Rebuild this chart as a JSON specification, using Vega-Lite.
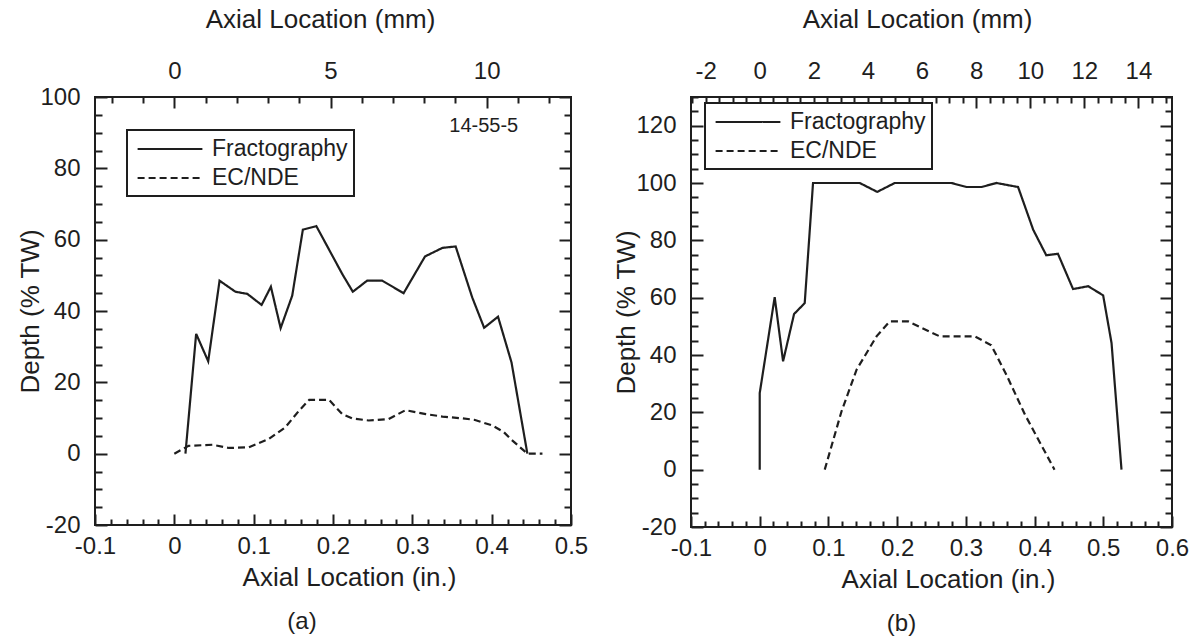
{
  "$schema": "https://vega.github.io/schema/vega-lite/v6.json",
  "background": "white",
  "padding": {"left": 16, "top": 5, "right": 0, "bottom": 0},
  "spacing": 23,
  "config": {
    "font": "Liberation Sans",
    "view": {"stroke": "#1e1e1e", "strokeWidth": 2},
    "axis": {
      "grid": false, "domain": false, "labelFlush": false, "labelOverlap": false, "labelBound": false,
      "labelFontSize": 24, "titleFontSize": 26, "titleFontWeight": "normal",
      "labelColor": "#1e1e1e", "titleColor": "#1e1e1e", "tickColor": "#1e1e1e", "tickWidth": 2
    },
    "legend": {"strokeColor": "#1e1e1e", "strokeWidth": 2, "fillColor": "white", "labelFontSize": 23, "labelColor": "#1e1e1e", "padding": 6, "rowPadding": 4, "symbolStrokeWidth": 2, "symbolStrokeColor": "#1e1e1e", "symbolType": "M-2.7,0H2.7", "symbolSize": 576, "symbolOffset": 24, "labelOffset": 29},
    "title": {"fontSize": 24, "fontWeight": "normal", "color": "#1e1e1e"}
  },
  "resolve": {"legend": {"strokeDash": "independent"}},
  "hconcat": [
    {
      "width": 476, "height": 428,
      "title": {"text": "(a)", "orient": "bottom", "offset": 20, "dx": -31},
      "data": {"values": [
        {"s": "Fractography", "x": 0.014, "y": 0},
        {"s": "Fractography", "x": 0.0275, "y": 33.6},
        {"s": "Fractography", "x": 0.0427, "y": 25.9},
        {"s": "Fractography", "x": 0.057, "y": 48.5},
        {"s": "Fractography", "x": 0.077, "y": 45.4},
        {"s": "Fractography", "x": 0.092, "y": 44.8},
        {"s": "Fractography", "x": 0.110, "y": 41.7},
        {"s": "Fractography", "x": 0.1217, "y": 46.8},
        {"s": "Fractography", "x": 0.134, "y": 35.2},
        {"s": "Fractography", "x": 0.1486, "y": 44.3},
        {"s": "Fractography", "x": 0.162, "y": 62.8},
        {"s": "Fractography", "x": 0.179, "y": 63.8},
        {"s": "Fractography", "x": 0.2116, "y": 50.4},
        {"s": "Fractography", "x": 0.225, "y": 45.4},
        {"s": "Fractography", "x": 0.243, "y": 48.5},
        {"s": "Fractography", "x": 0.262, "y": 48.5},
        {"s": "Fractography", "x": 0.289, "y": 45.0},
        {"s": "Fractography", "x": 0.316, "y": 55.3},
        {"s": "Fractography", "x": 0.338, "y": 57.7},
        {"s": "Fractography", "x": 0.3546, "y": 58.1},
        {"s": "Fractography", "x": 0.3755, "y": 43.8},
        {"s": "Fractography", "x": 0.3905, "y": 35.3},
        {"s": "Fractography", "x": 0.408, "y": 38.4},
        {"s": "Fractography", "x": 0.425, "y": 25.6},
        {"s": "Fractography", "x": 0.445, "y": 0},
        {"s": "EC/NDE", "x": 0, "y": 0},
        {"s": "EC/NDE", "x": 0.018, "y": 2.2},
        {"s": "EC/NDE", "x": 0.048, "y": 2.5},
        {"s": "EC/NDE", "x": 0.069, "y": 1.6},
        {"s": "EC/NDE", "x": 0.094, "y": 1.8},
        {"s": "EC/NDE", "x": 0.119, "y": 4.1},
        {"s": "EC/NDE", "x": 0.140, "y": 7.4},
        {"s": "EC/NDE", "x": 0.157, "y": 12},
        {"s": "EC/NDE", "x": 0.170, "y": 15.1},
        {"s": "EC/NDE", "x": 0.195, "y": 15.1},
        {"s": "EC/NDE", "x": 0.2116, "y": 11.1},
        {"s": "EC/NDE", "x": 0.224, "y": 9.9},
        {"s": "EC/NDE", "x": 0.245, "y": 9.3},
        {"s": "EC/NDE", "x": 0.27, "y": 9.7},
        {"s": "EC/NDE", "x": 0.2915, "y": 12.2},
        {"s": "EC/NDE", "x": 0.317, "y": 11.1},
        {"s": "EC/NDE", "x": 0.338, "y": 10.4},
        {"s": "EC/NDE", "x": 0.363, "y": 9.9},
        {"s": "EC/NDE", "x": 0.378, "y": 9.5},
        {"s": "EC/NDE", "x": 0.401, "y": 7.9},
        {"s": "EC/NDE", "x": 0.4155, "y": 6},
        {"s": "EC/NDE", "x": 0.424, "y": 4.1},
        {"s": "EC/NDE", "x": 0.445, "y": 0},
        {"s": "EC/NDE", "x": 0.464, "y": 0}
      ]},
      "resolve": {"axis": {"x": "independent", "y": "independent"}},
      "layer": [
        {
          "mark": {"type": "line", "color": "#1e1e1e", "strokeWidth": 2.2},
          "encoding": {
            "x": {"field": "x", "type": "quantitative", "scale": {"domain": [-0.1, 0.5], "nice": false, "zero": false},
              "axis": {"orient": "bottom", "title": "Axial Location (in.)", "labelPadding": 20, "titlePadding": 1, "titleX": 254,
                "values": [-0.1,-0.08,-0.06,-0.04,-0.02,0,0.02,0.04,0.06,0.08,0.1,0.12,0.14,0.16,0.18,0.2,0.22,0.24,0.26,0.28,0.3,0.32,0.34,0.36,0.38,0.4,0.42,0.44,0.46,0.48,0.5],
                "labelExpr": "abs(datum.value*10-round(datum.value*10))<0.001 ? (datum.value<-0.001?'-':'')+format(abs(datum.value),'~g') : ''",
                "tickSize": {"condition": {"test": "abs(datum.value*10-round(datum.value*10))<0.001", "value": -11}, "value": -6}}},
            "y": {"field": "y", "type": "quantitative", "scale": {"domain": [-20, 100], "nice": false, "zero": false},
              "axis": {"orient": "left", "title": "Depth (% TW)", "labelPadding": 27, "titlePadding": -4,
                "values": [-20,-15,-10,-5,0,5,10,15,20,25,30,35,40,45,50,55,60,65,70,75,80,85,90,95,100],
                "labelExpr": "datum.value%20==0 ? (datum.value<0?'-':'')+format(abs(datum.value),'d') : ''",
                "tickSize": {"condition": {"test": "datum.value%20==0", "value": -12}, "value": -7}}},
            "strokeDash": {"field": "s", "type": "nominal",
              "scale": {"domain": ["Fractography", "EC/NDE"], "range": [[1, 0], [7, 4]]},
              "legend": {"title": null, "orient": "none", "legendX": 32, "legendY": 33}},
            "order": {"value": null}
          }
        },
        {
          "mark": {"type": "point", "opacity": 0, "size": 0},
          "encoding": {
            "x": {"field": "x", "type": "quantitative", "scale": {"domain": [-0.1, 0.5], "nice": false, "zero": false},
              "axis": {"orient": "top", "title": "Axial Location (mm)", "labelPadding": 25, "titlePadding": 22, "titleX": 225,
                "values": [-0.07874,-0.03937,0,0.03937,0.07874,0.11811,0.15748,0.19685,0.23622,0.27559,0.31496,0.35433,0.3937,0.43307,0.47244],
                "labelExpr": "abs(datum.value*5.08-round(datum.value*5.08))<0.01 ? format(round(datum.value*25.4),'d') : ''",
                "tickSize": {"condition": {"test": "abs(datum.value*5.08-round(datum.value*5.08))<0.01", "value": -11}, "value": -6}}},
            "y": {"field": "y", "type": "quantitative", "scale": {"domain": [-20, 100], "nice": false, "zero": false},
              "axis": {"orient": "right", "title": null, "labels": false,
                "values": [-20,-15,-10,-5,0,5,10,15,20,25,30,35,40,45,50,55,60,65,70,75,80,85,90,95,100],
                "tickSize": {"condition": {"test": "datum.value%20==0", "value": -12}, "value": -7}}}
          }
        },
        {
          "data": {"values": [{"label": "14-55-5"}]},
          "mark": {"type": "text", "fontSize": 20, "color": "#1e1e1e", "align": "center", "baseline": "middle"},
          "encoding": {
            "text": {"field": "label", "type": "nominal"},
            "x": {"datum": 0.39, "type": "quantitative", "axis": null},
            "y": {"datum": 92, "type": "quantitative", "axis": null}
          }
        }
      ]
    },
    {
      "width": 481, "height": 430,
      "title": {"text": "(b)", "orient": "bottom", "offset": 20, "dx": -30},
      "data": {"values": [
        {"s": "Fractography", "x": 0, "y": 0},
        {"s": "Fractography", "x": 0, "y": 26.7},
        {"s": "Fractography", "x": 0.0218, "y": 60.2},
        {"s": "Fractography", "x": 0.034, "y": 37.8},
        {"s": "Fractography", "x": 0.050, "y": 54.3},
        {"s": "Fractography", "x": 0.0655, "y": 58.1},
        {"s": "Fractography", "x": 0.0776, "y": 100},
        {"s": "Fractography", "x": 0.1456, "y": 100},
        {"s": "Fractography", "x": 0.171, "y": 96.9},
        {"s": "Fractography", "x": 0.1965, "y": 100},
        {"s": "Fractography", "x": 0.279, "y": 100},
        {"s": "Fractography", "x": 0.301, "y": 98.6},
        {"s": "Fractography", "x": 0.3227, "y": 98.6},
        {"s": "Fractography", "x": 0.3445, "y": 100},
        {"s": "Fractography", "x": 0.376, "y": 98.6},
        {"s": "Fractography", "x": 0.398, "y": 83.7},
        {"s": "Fractography", "x": 0.417, "y": 74.8},
        {"s": "Fractography", "x": 0.434, "y": 75.3},
        {"s": "Fractography", "x": 0.456, "y": 63},
        {"s": "Fractography", "x": 0.478, "y": 64},
        {"s": "Fractography", "x": 0.4998, "y": 60.8},
        {"s": "Fractography", "x": 0.512, "y": 44.2},
        {"s": "Fractography", "x": 0.5265, "y": 0},
        {"s": "EC/NDE", "x": 0.0946, "y": 0},
        {"s": "EC/NDE", "x": 0.119, "y": 20.3},
        {"s": "EC/NDE", "x": 0.141, "y": 34.9},
        {"s": "EC/NDE", "x": 0.17, "y": 46.5},
        {"s": "EC/NDE", "x": 0.189, "y": 51.7},
        {"s": "EC/NDE", "x": 0.216, "y": 51.7},
        {"s": "EC/NDE", "x": 0.262, "y": 46.5},
        {"s": "EC/NDE", "x": 0.313, "y": 46.5},
        {"s": "EC/NDE", "x": 0.337, "y": 43.4},
        {"s": "EC/NDE", "x": 0.359, "y": 33.1},
        {"s": "EC/NDE", "x": 0.386, "y": 19.2},
        {"s": "EC/NDE", "x": 0.429, "y": 0}
      ]},
      "resolve": {"axis": {"x": "independent", "y": "independent"}},
      "layer": [
        {
          "mark": {"type": "line", "color": "#1e1e1e", "strokeWidth": 2.2},
          "encoding": {
            "x": {"field": "x", "type": "quantitative", "scale": {"domain": [-0.1, 0.6], "nice": false, "zero": false},
              "axis": {"orient": "bottom", "title": "Axial Location (in.)", "labelPadding": 20, "titlePadding": 1, "titleX": 257,
                "values": [-0.1,-0.08,-0.06,-0.04,-0.02,0,0.02,0.04,0.06,0.08,0.1,0.12,0.14,0.16,0.18,0.2,0.22,0.24,0.26,0.28,0.3,0.32,0.34,0.36,0.38,0.4,0.42,0.44,0.46,0.48,0.5,0.52,0.54,0.56,0.58,0.6],
                "labelExpr": "abs(datum.value*10-round(datum.value*10))<0.001 ? (datum.value<-0.001?'-':'')+format(abs(datum.value),'~g') : ''",
                "tickSize": {"condition": {"test": "abs(datum.value*10-round(datum.value*10))<0.001", "value": -11}, "value": -6}}},
            "y": {"field": "y", "type": "quantitative", "scale": {"domain": [-20, 130], "nice": false, "zero": false},
              "axis": {"orient": "left", "title": "Depth (% TW)", "labelPadding": 27, "titlePadding": -4,
                "values": [-20,-15,-10,-5,0,5,10,15,20,25,30,35,40,45,50,55,60,65,70,75,80,85,90,95,100,105,110,115,120,125,130],
                "labelExpr": "datum.value%20==0 ? (datum.value<0?'-':'')+format(abs(datum.value),'d') : ''",
                "tickSize": {"condition": {"test": "datum.value%20==0", "value": -12}, "value": -7}}},
            "strokeDash": {"field": "s", "type": "nominal",
              "scale": {"domain": ["Fractography", "EC/NDE"], "range": [[1, 0], [7, 4]]},
              "legend": {"title": null, "orient": "none", "legendX": 14, "legendY": 6}},
            "order": {"value": null}
          }
        },
        {
          "mark": {"type": "point", "opacity": 0, "size": 0},
          "encoding": {
            "x": {"field": "x", "type": "quantitative", "scale": {"domain": [-0.1, 0.6], "nice": false, "zero": false},
              "axis": {"orient": "top", "title": "Axial Location (mm)", "labelPadding": 25, "titlePadding": 22, "titleX": 226,
                "values": [-0.098425,-0.07874,-0.059055,-0.03937,-0.019685,0,0.019685,0.03937,0.059055,0.07874,0.098425,0.11811,0.137795,0.15748,0.177165,0.19685,0.216535,0.23622,0.255905,0.27559,0.295275,0.31496,0.334645,0.35433,0.374015,0.3937,0.413385,0.43307,0.452755,0.47244,0.492125,0.51181,0.531495,0.55118,0.570865,0.59055],
                "labelExpr": "abs(datum.value*12.7-round(datum.value*12.7))<0.01 ? (datum.value<0?'-':'')+format(abs(round(datum.value*25.4)),'d') : ''",
                "tickSize": {"condition": {"test": "abs(datum.value*12.7-round(datum.value*12.7))<0.01", "value": -11}, "value": -6}}},
            "y": {"field": "y", "type": "quantitative", "scale": {"domain": [-20, 130], "nice": false, "zero": false},
              "axis": {"orient": "right", "title": null, "labels": false,
                "values": [-20,-15,-10,-5,0,5,10,15,20,25,30,35,40,45,50,55,60,65,70,75,80,85,90,95,100,105,110,115,120,125,130],
                "tickSize": {"condition": {"test": "datum.value%20==0", "value": -12}, "value": -7}}}
          }
        }
      ]
    }
  ]
}
